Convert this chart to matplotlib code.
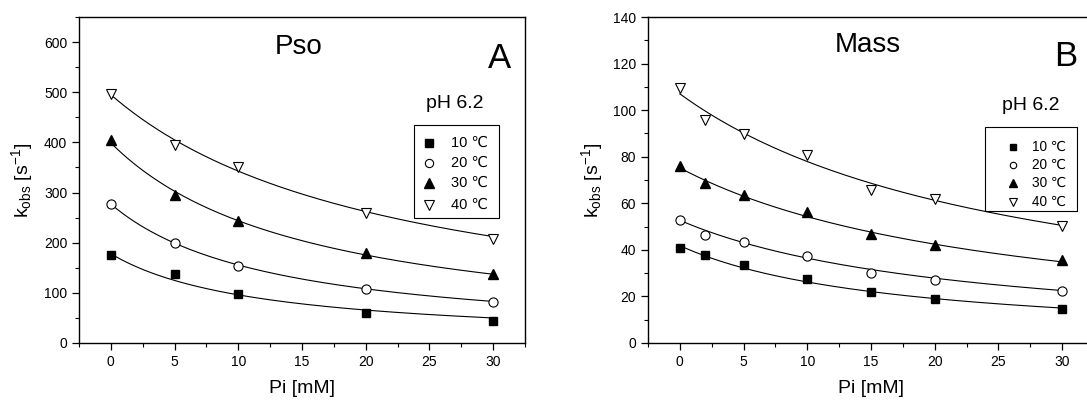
import numpy as np
import matplotlib
matplotlib.use("Agg")
import matplotlib.pyplot as plt
from matplotlib.patches import Rectangle
from matplotlib.ticker import MultipleLocator

plt.rcParams["font.family"] = ["Liberation Sans", "DejaVu Sans"]
plt.rcParams["mathtext.fontset"] = "custom"
plt.rcParams["mathtext.rm"] = "Liberation Sans"
plt.rcParams["mathtext.it"] = "Liberation Sans"

temps = ["10 ℃", "20 ℃", "30 ℃", "40 ℃"]

# Panel A (Pso)
pi_a = [0, 5, 10, 20, 30]
pso_10 = [175, 138, 97, 60, 43]
pso_20 = [278, 200, 153, 108, 82]
pso_30 = [405, 296, 244, 180, 138]
pso_40 = [497, 395, 350, 260, 207]
# hyperbolic fit parameters k0, Ki  (k = k0 / (1 + Pi/Ki))
pso_fit_k0 = [178, 277, 399, 495]
pso_fit_ki = [11.7, 12.8, 15.7, 22.5]

# Panel B (Mass)
pi_b = [0, 2, 5, 10, 15, 20, 30]
mass_10 = [41, 38, 33.6, 27.3, 21.9, 18.9, 14.8]
mass_20 = [53, 46.4, 43.4, 37.5, 30.1, 26.9, 22.5]
mass_30 = [76.2, 68.7, 63.4, 56.4, 46.9, 42.3, 35.7]
mass_40 = [109.5, 95.9, 89.6, 80.9, 65.8, 61.8, 50.4]
mass_fit_k0 = [41.8, 52.7, 75.2, 107.0]
mass_fit_ki = [16.8, 22.4, 25.9, 26.8]

markers = [
    dict(marker="s", mfc="black", mec="black", ms=6),
    dict(marker="o", mfc="white", mec="black", ms=6.6, mew=0.8),
    dict(marker="^", mfc="black", mec="black", ms=7.5),
    dict(marker="v", mfc="white", mec="black", ms=7.5, mew=0.8),
]

W, H = 1087, 403
AX_W, AX_H, AX_B = 446, 326, 343  # axes size and bottom (px)


def px(ax_left, x, y):
    # pixel position (from top-left) -> axes fraction
    return (x - ax_left) / AX_W, (AX_B - y) / AX_H


def manual_legend(ax, ax_left, box, mark_x, text_x, rows, fs, mscale):
    x0, y0, x1, y1 = box
    bx, by = px(ax_left, x0, y1)
    ax.add_patch(Rectangle((bx, by), (x1 - x0) / AX_W, (y1 - y0) / AX_H,
                           transform=ax.transAxes, fill=False, ec="black",
                           lw=0.8, clip_on=False, zorder=5))
    for mk, lab, ry in zip(markers, temps, rows):
        mx, my = px(ax_left, mark_x, ry)
        style = dict(mk)
        style["ms"] = mk["ms"] * mscale
        ax.plot([mx], [my], transform=ax.transAxes, ls="none",
                clip_on=False, zorder=6, **style)
        tx, ty = px(ax_left, text_x, ry)
        ax.text(tx, ty, lab, transform=ax.transAxes, fontsize=fs,
                ha="left", va="center", zorder=6)


def draw_panel(ax, ax_left, x, series, k0s, kis, ylim, ymajor, yminor,
               name, letter, name_xy, letter_xy, ph_xy):
    xs = np.linspace(0, 30, 200)
    for k0, ki in zip(k0s, kis):
        ax.plot(xs, k0 / (1 + xs / ki), color="black", lw=0.8, zorder=2)
    for ys, mk in zip(series, markers):
        ax.plot(x, ys, ls="none", zorder=3, **mk)

    ax.set_xlim(-2.5, 32.5)
    ax.set_ylim(*ylim)
    ax.xaxis.set_major_locator(MultipleLocator(5))
    ax.xaxis.set_minor_locator(MultipleLocator(2.5))
    ax.yaxis.set_major_locator(MultipleLocator(ymajor))
    ax.yaxis.set_minor_locator(MultipleLocator(yminor))
    ax.tick_params(which="major", direction="out", length=5, width=0.9,
                   labelsize=10, top=False, right=False)
    ax.tick_params(which="minor", direction="out", length=3, width=0.8,
                   top=False, right=False)
    for sp in ax.spines.values():
        sp.set_linewidth(1.0)

    ax.set_xlabel("Pi [mM]", fontsize=14, labelpad=8)
    ax.set_ylabel(r"k$_{\rm obs}$ [$\rm s^{-1}$]", fontsize=14, labelpad=6)

    ax.text(*px(ax_left, *name_xy), name, transform=ax.transAxes,
            fontsize=20, ha="center", va="center")
    ax.text(*px(ax_left, *letter_xy), letter, transform=ax.transAxes,
            fontsize=25, ha="center", va="center")
    ax.text(*px(ax_left, *ph_xy), "pH 6.2", transform=ax.transAxes,
            fontsize=14, ha="center", va="center")


fig = plt.figure(figsize=(W / 100, H / 100), dpi=100)
left_a, left_b = 79, 648
ax_a = fig.add_axes([left_a / W, (H - AX_B) / H, AX_W / W, AX_H / H])
ax_b = fig.add_axes([left_b / W, (H - AX_B) / H, AX_W / W, AX_H / H])

draw_panel(ax_a, left_a, pi_a, [pso_10, pso_20, pso_30, pso_40],
           pso_fit_k0, pso_fit_ki, (0, 650), 100, 50, "Pso", "A",
           (299, 47), (499, 59), (455, 104))
manual_legend(ax_a, left_a, (414, 125, 499, 218), 429, 451,
              [142.6, 162.8, 183.3, 205.2], 10.5, 0.9)

draw_panel(ax_b, left_b, pi_b, [mass_10, mass_20, mass_30, mass_40],
           mass_fit_k0, mass_fit_ki, (0, 140), 20, 10, "Mass", "B",
           (868, 45), (1066, 56), (1031, 106))
manual_legend(ax_b, left_b, (985, 127, 1077, 211), 1013, 1032,
              [146.5, 164.5, 182.5, 201.5], 9.8, 0.7)

fig.savefig("out.png", dpi=100)
